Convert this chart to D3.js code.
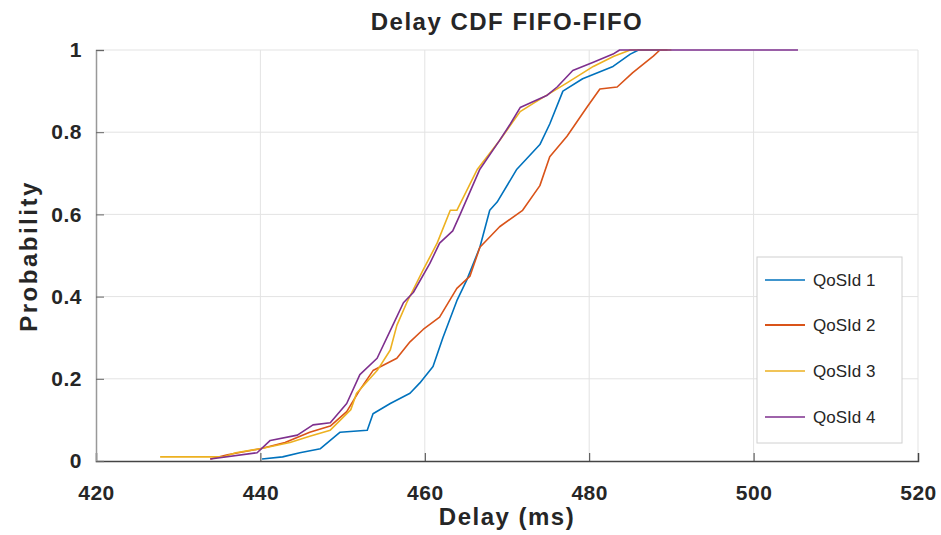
<!DOCTYPE html>
<html>
<head>
<meta charset="utf-8">
<script src="https://cdn.jsdelivr.net/npm/d3@7"></script>
<style>
  body { margin: 0; background: #fff; }
  svg text { font-family: "Liberation Sans", Arial, sans-serif; fill: #262626; }
</style>
</head>
<body>
<svg id="canvas"></svg>
<script>
// values
const seriesNames = ["QoSId 1", "QoSId 2", "QoSId 3", "QoSId 4"];
const seriesColors = ["#0072BD", "#D95319", "#EDB120", "#7E2F8E"];

const delay1 = [440.2, 442.7, 444.8, 447.3, 449.7, 453, 453.7, 455.8, 458.2, 459.4, 461, 462.2, 463.9, 465.1, 466.7, 467.9, 468.8, 471.2, 474, 475.2, 476.8, 479.2, 482.9, 485, 486, 489.5];
const prob1  = [0.005, 0.01, 0.02, 0.03, 0.07, 0.075, 0.115, 0.14, 0.165, 0.19, 0.23, 0.30, 0.39, 0.44, 0.52, 0.61, 0.63, 0.71, 0.77, 0.82, 0.90, 0.93, 0.96, 0.99, 1.0, 1.0];

const delay2 = [433.9, 436, 440, 443, 446, 448.5, 450.5, 452, 453.7, 456.6, 458.2, 459.8, 461.8, 463.9, 465.5, 466.7, 469.1, 471.9, 474, 475.2, 477.3, 479.7, 481.3, 483.4, 485.3, 487.8, 488.6, 489.5];
const prob2  = [0.005, 0.015, 0.03, 0.045, 0.07, 0.085, 0.12, 0.17, 0.22, 0.25, 0.29, 0.32, 0.35, 0.42, 0.45, 0.52, 0.57, 0.61, 0.67, 0.74, 0.79, 0.86, 0.905, 0.91, 0.945, 0.985, 1.0, 1.0];

const delay3 = [427.8, 435.5, 437, 440, 443.6, 446, 448.5, 451, 451.7, 454.2, 455.8, 456.6, 457.8, 459.8, 461.5, 463.1, 463.9, 466.4, 469.1, 471.6, 473.2, 477.3, 480.5, 483, 485, 490];
const prob3  = [0.01, 0.01, 0.02, 0.03, 0.045, 0.06, 0.075, 0.125, 0.165, 0.22, 0.27, 0.33, 0.385, 0.465, 0.53, 0.61, 0.61, 0.71, 0.78, 0.85, 0.87, 0.92, 0.96, 0.985, 1.0, 1.0];

const delay4 = [433.9, 439.6, 441.2, 444.5, 446.4, 448.5, 450.5, 452.1, 454.2, 456.1, 457.4, 458.6, 460.6, 461.8, 463.4, 464.3, 466.7, 469.1, 470.4, 471.6, 474.9, 476.1, 478, 480.5, 482.9, 483.7, 505.4];
const prob4  = [0.005, 0.02, 0.05, 0.063, 0.088, 0.093, 0.14, 0.21, 0.25, 0.33, 0.385, 0.41, 0.48, 0.53, 0.56, 0.60, 0.71, 0.78, 0.82, 0.86, 0.89, 0.91, 0.95, 0.97, 0.99, 1.0, 1.0];

const xTicks = [420, 440, 460, 480, 500, 520];
const yTicks = [0, 0.2, 0.4, 0.6, 0.8, 1];

const width = 941;
const height = 535;
const plotLeft = 96, plotRight = 918, plotTop = 50, plotBottom = 461;

const series = [
    { delay: delay1, prob: prob1 },
    { delay: delay2, prob: prob2 },
    { delay: delay3, prob: prob3 },
    { delay: delay4, prob: prob4 }
];

const canvas = d3.select("#canvas")
    .attr("width", width)
    .attr("height", height);

const xScale = d3.scaleLinear().domain([420, 520]).range([plotLeft, plotRight]);
const yScale = d3.scaleLinear().domain([0, 1]).range([plotBottom, plotTop]);

// grid
canvas.append("g")
    .selectAll("line")
    .data(xTicks.slice(1))
    .enter()
    .append("line")
    .attr("x1", d => xScale(d)).attr("x2", d => xScale(d))
    .attr("y1", plotTop).attr("y2", plotBottom)
    .attr("stroke", "#e3e3e3").attr("stroke-width", 1);
canvas.append("g")
    .selectAll("line")
    .data(yTicks.slice(1))
    .enter()
    .append("line")
    .attr("x1", plotLeft).attr("x2", plotRight)
    .attr("y1", d => yScale(d)).attr("y2", d => yScale(d))
    .attr("stroke", "#e3e3e3").attr("stroke-width", 1);

// axes, ticks pointing inward like matlab
const xAxis = d3.axisBottom(xScale).tickValues(xTicks).tickSize(-8).tickPadding(24).tickFormat(d3.format("d"));
const yAxis = d3.axisLeft(yScale).tickValues(yTicks).tickSize(-8).tickPadding(14).tickFormat(d => d === 0 || d === 1 ? d : d3.format(".1f")(d));

const gx = canvas.append("g")
    .attr("transform", `translate(0, ${plotBottom})`)
    .call(xAxis);
gx.select(".domain").attr("stroke", "#444").attr("stroke-width", 1.5);
gx.selectAll(".tick line").attr("stroke", "#444");
gx.selectAll("text").style("font-size", "21px").style("font-weight", "bold").style("letter-spacing", "0.5px").attr("fill", "#262626");

const gy = canvas.append("g")
    .attr("transform", `translate(${plotLeft}, 0)`)
    .call(yAxis);
gy.select(".domain").attr("stroke", "#999").attr("stroke-width", 1.5);
gy.selectAll(".tick line").attr("stroke", "#666");
gy.selectAll("text").style("font-size", "21px").style("font-weight", "bold").style("letter-spacing", "0.5px").attr("fill", "#262626");

// curves
const line = d3.line()
    .x(d => xScale(d[0]))
    .y(d => yScale(d[1]));

series.forEach((s, i) => {
    canvas.append("path")
        .datum(s.delay.map((v, j) => [v, s.prob[j]]))
        .attr("d", line)
        .attr("fill", "none")
        .attr("stroke", seriesColors[i])
        .attr("stroke-width", 1.6)
        .attr("stroke-linejoin", "round");
});

// labels
canvas.append("text")
    .attr("x", (plotLeft + plotRight) / 2)
    .attr("y", 30)
    .attr("text-anchor", "middle")
    .style("font-size", "24px")
    .style("font-weight", "bold")
    .style("letter-spacing", "1.5px")
    .text("Delay CDF FIFO-FIFO");

canvas.append("text")
    .attr("x", (plotLeft + plotRight) / 2)
    .attr("y", 525)
    .attr("text-anchor", "middle")
    .style("font-size", "24px")
    .style("font-weight", "bold")
    .style("letter-spacing", "1.5px")
    .text("Delay (ms)");

canvas.append("text")
    .attr("transform", `translate(37, 256) rotate(-90)`)
    .attr("text-anchor", "middle")
    .style("font-size", "24px")
    .style("font-weight", "bold")
    .style("letter-spacing", "2.5px")
    .text("Probability");

// legend
const legend = canvas.append("g");
legend.append("rect")
    .attr("x", 757).attr("y", 257)
    .attr("width", 145).attr("height", 186)
    .attr("fill", "#fff")
    .attr("stroke", "#d0d0d0");

const legendY = [280, 325, 371, 417];
seriesNames.forEach((name, i) => {
    legend.append("line")
        .attr("x1", 765).attr("x2", 805)
        .attr("y1", legendY[i]).attr("y2", legendY[i])
        .attr("stroke", seriesColors[i])
        .attr("stroke-width", i === 1 ? 2.2 : 1.6);
    legend.append("text")
        .attr("x", 813)
        .attr("y", legendY[i] + 6)
        .style("font-size", "17px")
        .text(name);
});
</script>
</body>
</html>
